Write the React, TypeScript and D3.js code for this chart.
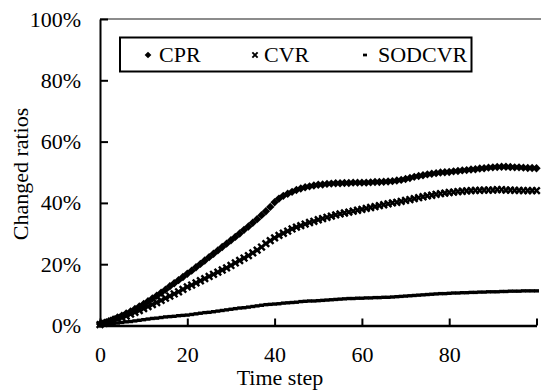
import * as d3 from "d3";
import { useEffect, useRef } from "react";

// time steps 0..100
const steps = d3.range(0, 101);

// Changed ratios in percent
const cpr = [
  0.5, 0.9, 1.4, 2.0, 2.6, 3.2, 3.9, 4.6, 5.4, 6.2,
  7.0, 7.9, 8.8, 9.7, 10.7, 11.7, 12.8, 13.8, 14.8, 15.8,
  16.9, 17.9, 19.0, 20.1, 21.2, 22.3, 23.4, 24.5, 25.6, 26.7,
  27.8, 28.9, 30.0, 31.2, 32.3, 33.5, 34.7, 36.0, 37.3, 38.7,
  40.2, 41.4, 42.3, 43.0, 43.6, 44.2, 44.7, 45.1, 45.4, 45.7,
  45.9, 46.0, 46.2, 46.3, 46.4, 46.4, 46.5, 46.5, 46.6, 46.6,
  46.6, 46.6, 46.7, 46.8, 46.8, 46.9, 47.0, 47.1, 47.3, 47.5,
  47.8, 48.1, 48.5, 48.8, 49.0, 49.3, 49.5, 49.7, 49.9, 50.0,
  50.1, 50.3, 50.4, 50.6, 50.7, 50.9, 51.0, 51.2, 51.3, 51.5,
  51.6, 51.7, 51.8, 51.8, 51.7, 51.6, 51.6, 51.5, 51.4, 51.4,
  51.3,
];
const cvr = [
  0.3, 0.7, 1.1, 1.6, 2.1, 2.6, 3.1, 3.7, 4.3, 4.9,
  5.5, 6.2, 6.8, 7.5, 8.2, 8.9, 9.6, 10.3, 11.0, 11.8,
  12.6, 13.2, 13.9, 14.6, 15.3, 16.0, 16.7, 17.4, 18.1, 18.8,
  19.6, 20.4, 21.2, 22.0, 22.8, 23.7, 24.6, 25.6, 26.7, 27.7,
  28.6, 29.4, 30.1, 30.8, 31.5, 32.1, 32.6, 33.1, 33.6, 34.0,
  34.5, 34.9, 35.3, 35.7, 36.1, 36.4, 36.7, 37.0, 37.3, 37.6,
  37.9, 38.2, 38.5, 38.8, 39.1, 39.4, 39.7, 40.0, 40.2, 40.5,
  40.8, 41.1, 41.4, 41.7, 42.0, 42.3, 42.5, 42.8, 43.0, 43.2,
  43.4, 43.5, 43.7, 43.8, 43.9, 44.0, 44.1, 44.1, 44.2, 44.2,
  44.2, 44.3, 44.3, 44.2, 44.2, 44.1, 44.1, 44.0, 44.0, 44.0,
  44.0,
];
const sodcvr = [
  0.1, 0.2, 0.4, 0.6, 0.8, 1.0, 1.2, 1.3, 1.5, 1.7,
  1.9, 2.1, 2.3, 2.4, 2.6, 2.8, 2.9, 3.0, 3.2, 3.3,
  3.4, 3.6, 3.8, 4.0, 4.2, 4.3, 4.5, 4.7, 4.9, 5.1,
  5.3, 5.5, 5.7, 5.8, 6.0, 6.2, 6.4, 6.6, 6.8, 6.9,
  7.0, 7.1, 7.3, 7.4, 7.5, 7.6, 7.8, 7.9, 8.0, 8.0,
  8.1, 8.2, 8.3, 8.4, 8.5, 8.6, 8.7, 8.8, 8.8, 8.9,
  8.9, 9.0, 9.0, 9.1, 9.1, 9.2, 9.2, 9.3, 9.4, 9.5,
  9.6, 9.7, 9.8, 9.9, 10.0, 10.1, 10.2, 10.3, 10.4, 10.4,
  10.5, 10.6, 10.6, 10.7, 10.7, 10.8, 10.8, 10.9, 10.9, 11.0,
  11.0, 11.0, 11.1, 11.1, 11.2, 11.2, 11.2, 11.3, 11.3, 11.3,
  11.3,
];

const seriesNames = ["CPR", "CVR", "SODCVR"];
const xTicks = [0, 20, 40, 60, 80, 100];
const yTicks = [0, 0.2, 0.4, 0.6, 0.8, 1];

const FONT = "Times New Roman, Liberation Serif, DejaVu Serif, serif";

const App = () => {
  const svgRef = useRef<SVGSVGElement>(null);
  useEffect(() => {
    if (!svgRef.current) return;
    const svg = d3.select(svgRef.current);
    svg.selectAll("*").remove();
    const width = 542;
    const height = 390;

    const x = d3.scaleLinear().domain([0, 100]).range([100, 536.5]);
    const y = d3.scaleLinear().domain([0, 1]).range([325.5, 19]);

    svg.attr("width", width).attr("height", height);

    // top border of plot area (gray)
    svg
      .append("line")
      .attr("x1", x(0))
      .attr("x2", 541)
      .attr("y1", y(1))
      .attr("y2", y(1))
      .attr("stroke", "#8c8c8c")
      .attr("stroke-width", 2);

    // markers
    const diamond = "M0,-4.2L4.2,0L0,4.2L-4.2,0Z";
    const cross = "M-3.3,-3.3L3.3,3.3M-3.3,3.3L3.3,-3.3";

    const drawMarker = (
      g: d3.Selection<SVGGElement, unknown, null, undefined>,
      kind: number
    ) => {
      if (kind === 0) {
        g.append("path").attr("d", diamond).attr("fill", "#000");
      } else if (kind === 1) {
        g.append("path")
          .attr("d", cross)
          .attr("stroke", "#000")
          .attr("stroke-width", 2.4)
          .attr("fill", "none");
      } else {
        g.append("rect")
          .attr("x", -2.5)
          .attr("y", -1.7)
          .attr("width", 5)
          .attr("height", 3.4)
          .attr("fill", "#000");
      }
    };

    [cpr, cvr, sodcvr].forEach((vals, si) => {
      const g = svg.append("g");
      steps.forEach((t, i) => {
        const mg = g
          .append("g")
          .attr("transform", `translate(${x(t)},${y(vals[i] / 100)})`);
        drawMarker(mg, si);
      });
    });

    // y axis
    const yAxis = svg
      .append("g")
      .attr("transform", `translate(${x(0)},0)`)
      .call(
        d3
          .axisLeft(y)
          .tickValues(yTicks)
          .tickSize(-8)
          .tickSizeOuter(0)
          .tickPadding(19)
          .tickFormat(d3.format(".0%"))
      );
    yAxis.select(".domain").attr("stroke-width", 2);
    yAxis.selectAll(".tick line").attr("stroke-width", 2);

    // x axis
    const xAxis = svg
      .append("g")
      .attr("transform", `translate(0,${y(0)})`)
      .call(
        d3
          .axisBottom(x)
          .tickValues(xTicks)
          .tickSize(-7)
          .tickSizeOuter(0)
          .tickPadding(21)
          .tickFormat((d) => (+d === 100 ? "" : String(d)))
      );
    xAxis.select(".domain").attr("stroke-width", 2.5);
    xAxis.selectAll(".tick line").attr("stroke-width", 2);

    // axis titles
    svg
      .append("text")
      .attr("x", 280)
      .attr("y", 385)
      .attr("text-anchor", "middle")
      .text("Time step");
    svg
      .append("text")
      .attr("transform", "translate(28,174) rotate(-90)")
      .attr("text-anchor", "middle")
      .text("Changed ratios");

    // legend
    const legend = svg.append("g");
    legend
      .append("rect")
      .attr("x", 120)
      .attr("y", 37.5)
      .attr("width", 351.5)
      .attr("height", 34)
      .attr("fill", "#fff")
      .attr("stroke", "#000")
      .attr("stroke-width", 2);
    const markerX = [148, 255, 365];
    const textX = [159, 264, 378];
    seriesNames.forEach((name, i) => {
      const mg = legend
        .append("g")
        .attr("transform", `translate(${markerX[i]},55) scale(0.8)`);
      drawMarker(mg, i);
      legend.append("text").attr("x", textX[i]).attr("y", 62).text(name);
    });

    // one font for every text, set last so axis defaults are overridden
    svg
      .selectAll("text")
      .style("font-family", FONT)
      .style("font-size", "22px")
      .attr("fill", "#000");
  }, []);
  return (
    <svg
      ref={svgRef}
      style={{ position: "absolute", left: 0, top: 0, background: "#fff" }}
    ></svg>
  );
};

export default App;
